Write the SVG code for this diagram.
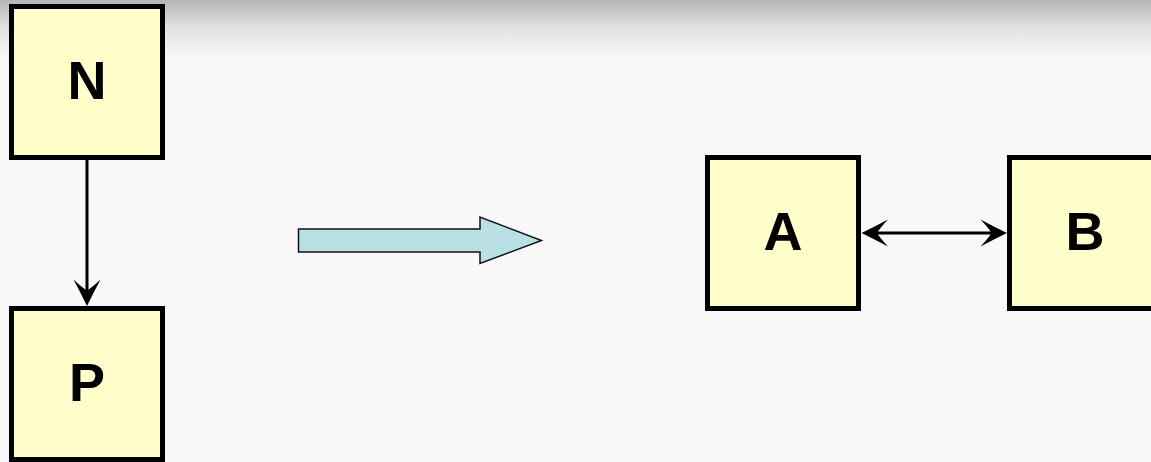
<svg xmlns="http://www.w3.org/2000/svg" width="1151" height="462" viewBox="0 0 1151 462">
  <style>
    .box { fill: #ffffcc; stroke: #000; stroke-width: 5; }
    .lbl { font-family: "Liberation Sans", Arial, sans-serif; font-weight: bold; font-size: 54px; fill: #000; text-anchor: middle; }
    .conn { stroke: #000; stroke-width: 3; fill: none; }
  </style>
  <defs>
    <linearGradient id="bg" x1="0" y1="0" x2="0" y2="1">
      <stop offset="0" stop-color="#b4b4b4"/>
      <stop offset="0.35" stop-color="#dedede"/>
      <stop offset="0.75" stop-color="#f5f5f5"/>
      <stop offset="1" stop-color="#f9f9f9"/>
    </linearGradient>
    <marker id="ah" markerUnits="userSpaceOnUse" markerWidth="34" markerHeight="34" viewBox="-29 -17 34 34" refX="-12" refY="0" orient="auto-start-reverse">
      <path d="M0.5,0 Q-12,-6 -26,-13.5 Q-18,-5 -15,0 Q-18,5 -26,13.5 Q-12,6 0.5,0 Z" fill="#000"/>
    </marker>
  </defs>
  <rect x="0" y="0" width="1151" height="462" fill="#f9f9f9"/>
  <rect x="0" y="0" width="1151" height="70" fill="url(#bg)"/>

  <g id="connectors">
    <line class="conn" x1="87" y1="160" x2="87" y2="293.5" marker-end="url(#ah)"/>
    <line class="conn" x1="874" y1="233" x2="994.5" y2="233" marker-start="url(#ah)" marker-end="url(#ah)"/>
    <polygon points="298.5,229 480,229 480,217 541.5,240.5 480,263.5 480,252 298.5,252" fill="#b9e0e4" stroke="#111" stroke-width="1.5"/>
  </g>

  <g id="node-N">
    <rect class="box" x="11.5" y="6.5" width="151" height="151"/>
    <text class="lbl" x="87" y="99">N</text>
  </g>
  <g id="node-P">
    <rect class="box" x="11.5" y="308.5" width="151" height="151"/>
    <text class="lbl" x="87" y="401">P</text>
  </g>
  <g id="node-A">
    <rect class="box" x="707.5" y="157.5" width="151" height="151"/>
    <text class="lbl" x="783" y="250">A</text>
  </g>
  <g id="node-B">
    <rect class="box" x="1009.5" y="157.5" width="151" height="151"/>
    <text class="lbl" x="1085" y="250">B</text>
  </g>
</svg>
